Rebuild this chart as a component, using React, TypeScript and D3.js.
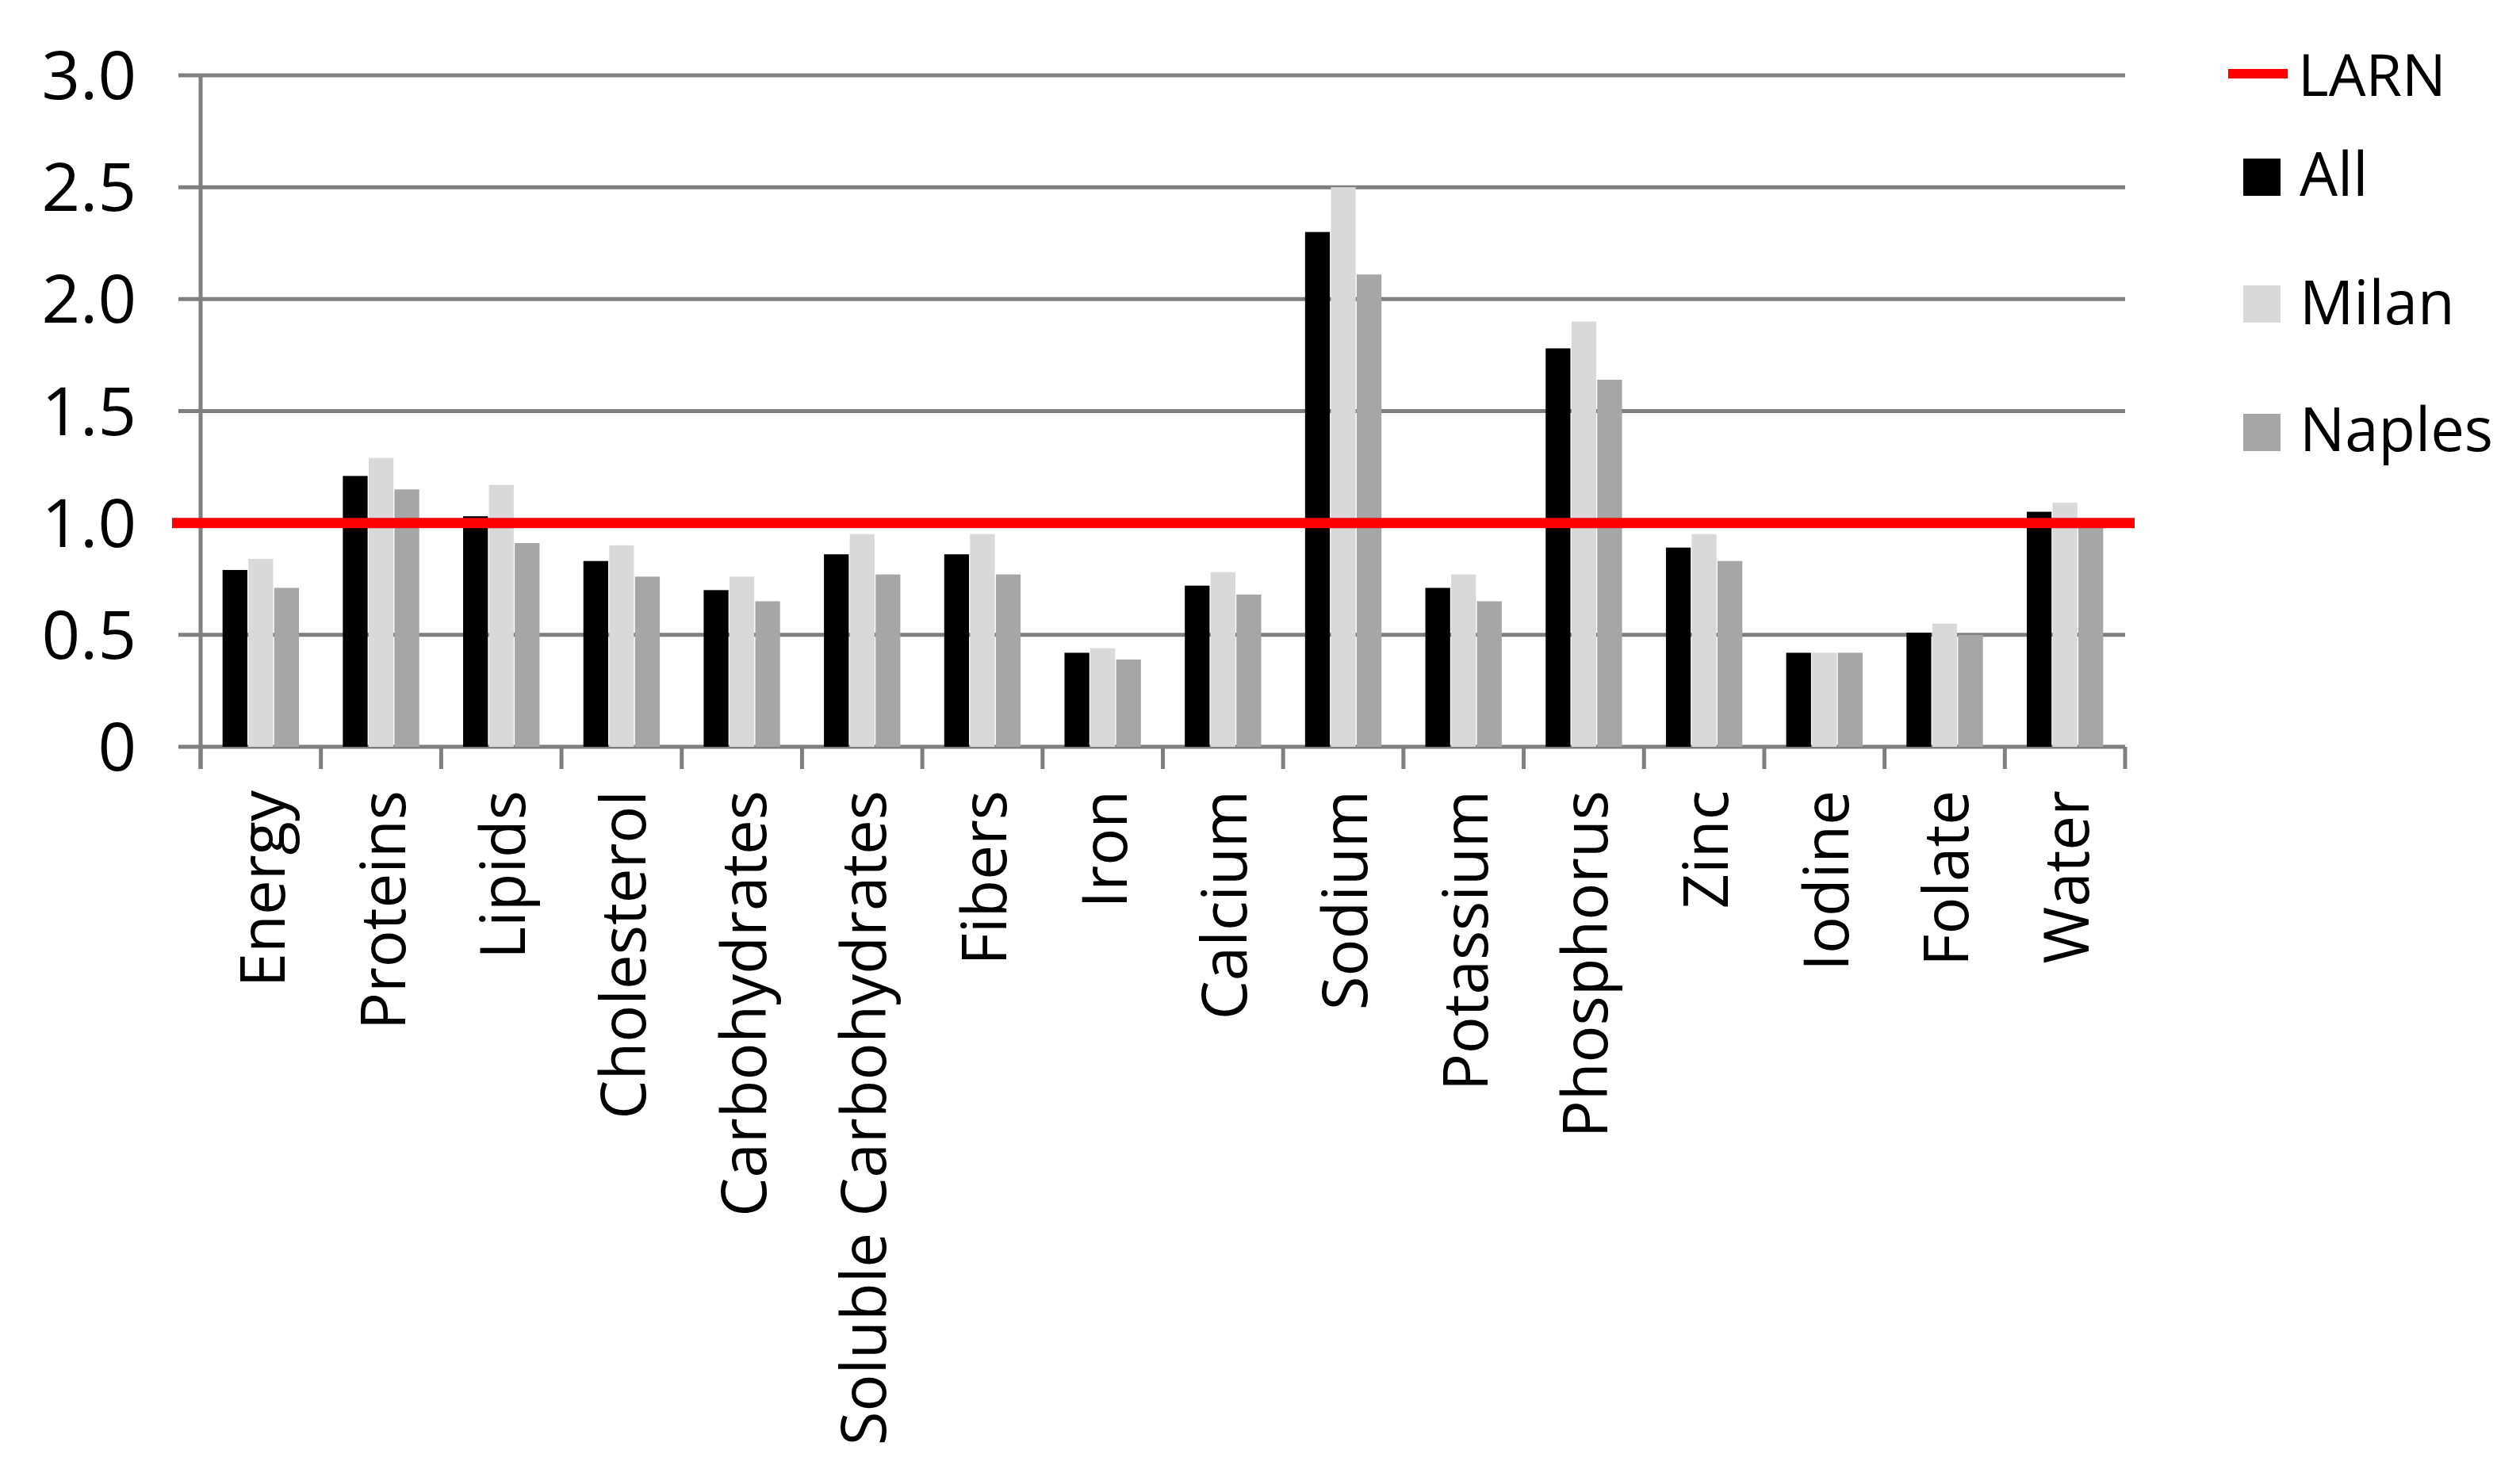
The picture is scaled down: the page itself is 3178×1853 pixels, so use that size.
import React from "react";
import * as d3 from "d3";

const categories = ["Energy","Proteins","Lipids","Cholesterol","Carbohydrates","Soluble Carbohydrates","Fibers","Iron","Calcium","Sodium","Potassium","Phosphorus","Zinc","Iodine","Folate","Water"];
const allValues = [0.79,1.21,1.03,0.83,0.70,0.86,0.86,0.42,0.72,2.30,0.71,1.78,0.89,0.42,0.51,1.05];
const milanValues = [0.84,1.29,1.17,0.90,0.76,0.95,0.95,0.44,0.78,2.50,0.77,1.90,0.95,0.42,0.55,1.09];
const naplesValues = [0.71,1.15,0.91,0.76,0.65,0.77,0.77,0.39,0.68,2.11,0.65,1.64,0.83,0.42,0.50,1.01];
const seriesNames = ["All","Milan","Naples"];
const seriesColors = ["#000000","#d9d9d9","#a6a6a6"];
const yTicks = [0,0.5,1.0,1.5,2.0,2.5,3.0];
const larnValue = 1.0;

const W = 3178, H = 1853;
const left = 253, right = 2680, top = 95, bottom = 942;

export default function App() {
  const x = d3.scaleBand<string>().domain(categories).range([left, right]).padding(0);
  const xs = d3.scaleBand<string>().domain(seriesNames).range([0, x.bandwidth()]).paddingInner(0.04).paddingOuter(0.85);
  const y = d3.scaleLinear().domain([0, 3]).range([bottom, top]);
  const series = [allValues, milanValues, naplesValues];
  const font = "'Open Sans', 'Noto Sans', sans-serif";
  const fmt = (v: number) => (v === 0 ? "0" : d3.format(".1f")(v));
  const boundaries = [...categories.map((c) => x(c) as number), right];

  return (
    <svg width={W} height={H} style={{ position: "absolute", left: 0, top: 0, background: "#fff" }} fontFamily={font}>
      <rect x={0} y={0} width={W} height={H} fill="#fff" />
      {yTicks.map((t) => (
        <line key={"g" + t} x1={225} x2={right} y1={y(t)} y2={y(t)} stroke="#7f7f7f" strokeWidth={5} />
      ))}
      <line x1={left} x2={left} y1={top} y2={bottom + 28} stroke="#7f7f7f" strokeWidth={5} />
      {boundaries.map((b, i) => (
        <line key={"t" + i} x1={b} x2={b} y1={bottom} y2={bottom + 28} stroke="#7f7f7f" strokeWidth={5} />
      ))}
      {yTicks.map((t) => (
        <text key={"yl" + t} x={172} y={y(t) + 30} textAnchor="end" fontSize={85} fill="#000">
          {fmt(t)}
        </text>
      ))}
      {series.map((vals, si) =>
        vals.map((v, i) => (
          <rect
            key={si + "-" + i}
            x={(x(categories[i]) as number) + (xs(seriesNames[si]) as number)}
            y={y(v)}
            width={xs.bandwidth()}
            height={bottom - y(v)}
            fill={seriesColors[si]}
          />
        ))
      )}
      <line x1={217} x2={2692} y1={y(larnValue)} y2={y(larnValue)} stroke="#ff0000" strokeWidth={13} />
      {categories.map((c) => {
        const cx = (x(c) as number) + x.bandwidth() / 2 + 30;
        return (
          <text key={"xl" + c} transform={`translate(${cx},997) rotate(-90)`} textAnchor="end" fontSize={78} fill="#000">
            {c}
          </text>
        );
      })}
      <line x1={2810} x2={2885} y1={93} y2={93} stroke="#ff0000" strokeWidth={12} />
      <text x={2898} y={121} fontSize={74} fill="#000">LARN</text>
      {seriesNames.map((s, i) => {
        const sy = [200, 360, 522][i];
        const by = [247, 409, 569][i];
        return (
          <g key={"lg" + s}>
            <rect x={2829} y={sy} width={47} height={47} fill={seriesColors[i]} />
            <text x={2900} y={by} fontSize={76} fill="#000">{s}</text>
          </g>
        );
      })}
    </svg>
  );
}
